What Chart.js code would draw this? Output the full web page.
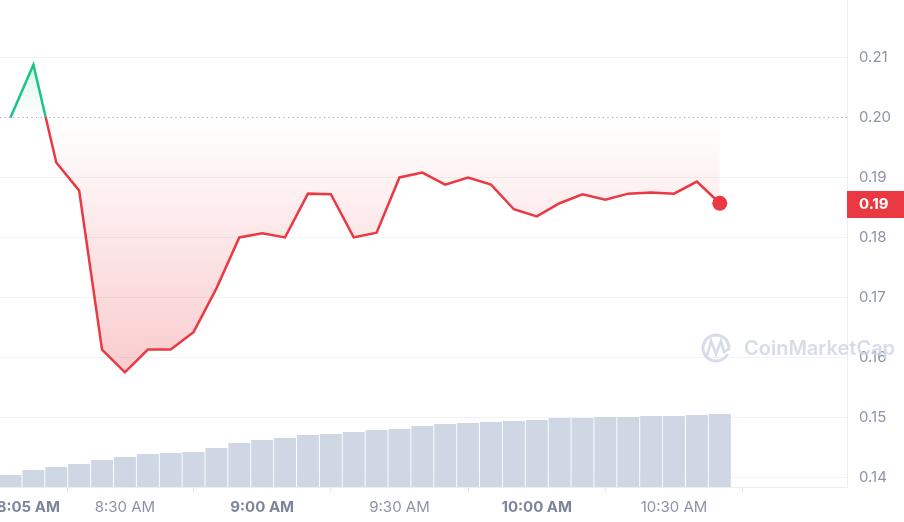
<!DOCTYPE html>
<html>
<head>
<meta charset="utf-8">
<script src="https://cdn.jsdelivr.net/npm/chart.js@4.4.1/dist/chart.umd.min.js"></script>
<style>
  html, body { margin: 0; padding: 0; background: #fff; }
  #wrap { width: 904px; height: 522px; position: relative; }
</style>
</head>
<body>
<div id="wrap"><canvas id="priceChart"></canvas></div>
<script>
// data (5 minute candles)
const times = ['8:05 AM', '8:10 AM', '8:15 AM', '8:20 AM', '8:25 AM', '8:30 AM', '8:35 AM', '8:40 AM',
  '8:45 AM', '8:50 AM', '8:55 AM', '9:00 AM', '9:05 AM', '9:10 AM', '9:15 AM', '9:20 AM',
  '9:25 AM', '9:30 AM', '9:35 AM', '9:40 AM', '9:45 AM', '9:50 AM', '9:55 AM', '10:00 AM',
  '10:05 AM', '10:10 AM', '10:15 AM', '10:20 AM', '10:25 AM', '10:30 AM', '10:35 AM', '10:40 AM'];
const prices = [0.2000, 0.2088, 0.1925, 0.1878, 0.1613, 0.1575, 0.1613, 0.1613,
  0.1642, 0.1715, 0.1800, 0.1807, 0.1800, 0.1873, 0.1872, 0.1800,
  0.1808, 0.1900, 0.1908, 0.1888, 0.1900, 0.1888, 0.1847, 0.1835,
  0.1857, 0.1872, 0.1863, 0.1873, 0.1875, 0.1873, 0.1893, 0.1857];
const volumes = [1.2, 1.7, 2.0, 2.3, 2.7, 3.0, 3.3, 3.4, 3.5, 3.9, 4.4, 4.7, 4.9, 5.2, 5.3, 5.5,
  5.7, 5.8, 6.1, 6.3, 6.4, 6.5, 6.6, 6.7, 6.9, 6.9, 7.0, 7.0, 7.1, 7.1, 7.2, 7.3];
const timeTicks = ['8:05 AM', '8:30 AM', '9:00 AM', '9:30 AM', '10:00 AM', '10:30 AM'];
const priceTicks = [0.14, 0.15, 0.16, 0.17, 0.18, 0.19, 0.20, 0.21];
const baseline = prices[0];

const GREEN = '#16c784';
const RED = '#ea3943';
const AXIS_TEXT = '#8c94a7';

function toMin(t) {
  const [hm, ap] = t.split(' ');
  let [h, m] = hm.split(':').map(Number);
  if (ap === 'PM' && h !== 12) h += 12;
  return h * 60 + m;
}

function clamp01(v) { return Math.max(0, Math.min(1, v)); }

// bold labels for the first tick and full hours
function isMajor(c) {
  return c.index === 0 || (c.tick && c.tick.value % 60 === 0);
}

// line colour: green above the opening price, red below
function strokeColor(c) {
  const chart = c.chart;
  const area = chart.chartArea;
  if (!area) return RED;
  const yb = chart.scales.y.getPixelForValue(baseline);
  const f = clamp01((yb - area.top) / (area.bottom - area.top));
  const g = chart.ctx.createLinearGradient(0, area.top, 0, area.bottom);
  g.addColorStop(0, GREEN);
  g.addColorStop(f, GREEN);
  g.addColorStop(f, RED);
  g.addColorStop(1, RED);
  return g;
}

function fillColor(c) {
  const chart = c.chart;
  const area = chart.chartArea;
  if (!area) return 'transparent';
  const y = chart.scales.y;
  const top = y.getPixelForValue(Math.max(...prices));
  const yb = y.getPixelForValue(baseline);
  const low = y.getPixelForValue(Math.min(...prices));
  const h = area.bottom - area.top;
  const g = chart.ctx.createLinearGradient(0, area.top, 0, area.bottom);
  g.addColorStop(clamp01((top - area.top) / h), 'rgba(22,199,132,0.15)');
  g.addColorStop(clamp01((yb - area.top) / h), 'rgba(22,199,132,0)');
  g.addColorStop(clamp01((yb - area.top) / h), 'rgba(234,57,67,0)');
  g.addColorStop(clamp01((low - area.top) / h), 'rgba(234,57,67,0.26)');
  g.addColorStop(1, 'rgba(234,57,67,0.26)');
  return g;
}

const extras = {
  id: 'extras',
  beforeDatasetsDraw(chart) {
    const { ctx, chartArea } = chart;
    const yb = Math.round(chart.scales.y.getPixelForValue(baseline)) + 0.5;
    ctx.save();
    ctx.strokeStyle = '#9a9a9a';
    ctx.lineWidth = 1;
    ctx.setLineDash([1, 3.5]);
    ctx.beginPath();
    ctx.moveTo(chartArea.left, yb);
    ctx.lineTo(chartArea.right, yb);
    ctx.stroke();
    ctx.restore();
  },
  afterDraw(chart) {
    const { ctx, chartArea } = chart;
    // watermark
    ctx.save();
    ctx.globalAlpha = 0.85;
    ctx.strokeStyle = '#cfd6e4';
    ctx.fillStyle = '#cfd6e4';
    ctx.lineWidth = 3;
    ctx.beginPath();
    ctx.arc(716, 348, 13, 0.15 * Math.PI, 2.05 * Math.PI);
    ctx.stroke();
    ctx.lineWidth = 2.6;
    ctx.beginPath();
    ctx.moveTo(707, 356);
    ctx.lineTo(711, 341);
    ctx.lineTo(716, 354);
    ctx.lineTo(721, 341);
    ctx.lineTo(724, 352);
    ctx.lineTo(729, 349);
    ctx.stroke();
    ctx.font = '600 20px Inter';
    ctx.textBaseline = 'middle';
    ctx.textAlign = 'left';
    ctx.fillText('CoinMarketCap', 744, 349);
    ctx.restore();

    // current price tag
    const last = prices[prices.length - 1];
    const py = chart.scales.y.getPixelForValue(last);
    ctx.save();
    ctx.fillStyle = RED;
    ctx.fillRect(chartArea.right, Math.round(py - 12.5), chart.width - chartArea.right, 27);
    ctx.fillStyle = '#ffffff';
    ctx.font = 'bold 15px Inter';
    ctx.textBaseline = 'middle';
    ctx.textAlign = 'left';
    ctx.fillText(last.toFixed(2), chartArea.right + 12, py + 1.5);
    ctx.restore();
  }
};

const ctx = document.getElementById('priceChart').getContext('2d');
new Chart(ctx, {
  type: 'bar',
  data: {
    datasets: [{
      type: 'line',
      label: 'Price',
      data: times.map((t, i) => ({ x: toMin(t), y: prices[i] })),
      yAxisID: 'y',
      order: 1,
      borderColor: strokeColor,
      backgroundColor: fillColor,
      borderWidth: 2.5,
      tension: 0,
      fill: { value: baseline },
      pointRadius: c => (c.dataIndex === prices.length - 1 ? 7.5 : 0),
      pointHoverRadius: 0,
      pointBackgroundColor: RED,
      pointBorderColor: RED,
      pointBorderWidth: 0,
    }, {
      type: 'bar',
      label: 'Volume',
      data: times.map((t, i) => ({ x: toMin(t), y: volumes[i] })),
      yAxisID: 'vol',
      order: 2,
      backgroundColor: '#cfd6e4',
      barPercentage: 0.96,
      categoryPercentage: 1,
    }],
  },
  options: {
    responsive: true,
    maintainAspectRatio: false,
    animation: false,
    events: [],
    layout: { padding: 0, autoPadding: false },
    plugins: { legend: { display: false }, tooltip: { enabled: false } },
    scales: {
      x: {
        type: 'linear',
        offset: false,
        min: 482.7,
        max: 667.8,
        afterBuildTicks: s => { s.ticks = timeTicks.map(t => ({ value: toMin(t) })); },
        afterFit: s => { s.height = 35; s.paddingLeft = 0; s.paddingRight = 0; },
        grid: { drawOnChartArea: false, drawTicks: true, tickLength: 5, tickColor: '#e3e6ec' },
        border: { display: true, color: '#eceef2' },
        ticks: {
          autoSkip: false,
          maxRotation: 0,
          padding: 6,
          color: c => (isMajor(c) ? '#7d8699' : AXIS_TEXT),
          font: c => ({ family: 'Inter', size: 15, weight: isMajor(c) ? 'bold' : 'normal' }),
          callback: (v, i) => (i === 0 ? '          ' + timeTicks[0] : timeTicks[i]),
        },
      },
      y: {
        type: 'linear',
        position: 'right',
        min: 0.13838,
        max: 0.21959,
        afterBuildTicks: s => { s.ticks = priceTicks.map(v => ({ value: v })); },
        afterFit: s => { s.width = 57; s.paddingTop = 0; s.paddingBottom = 0; },
        grid: {
          drawTicks: false,
          color: c => (c.tick && Math.abs(c.tick.value - baseline) < 1e-9 ? 'rgba(0,0,0,0)' : '#f2f3f5'),
        },
        border: { display: true, color: '#eceef2' },
        ticks: {
          padding: 12,
          color: AXIS_TEXT,
          font: { family: 'Inter', size: 15 },
          callback: v => v.toFixed(2),
        },
      },
      vol: {
        type: 'linear',
        display: false,
        min: 0,
        max: 48.7,
      },
    },
  },
  plugins: [extras],
});
</script>
</body>
</html>
